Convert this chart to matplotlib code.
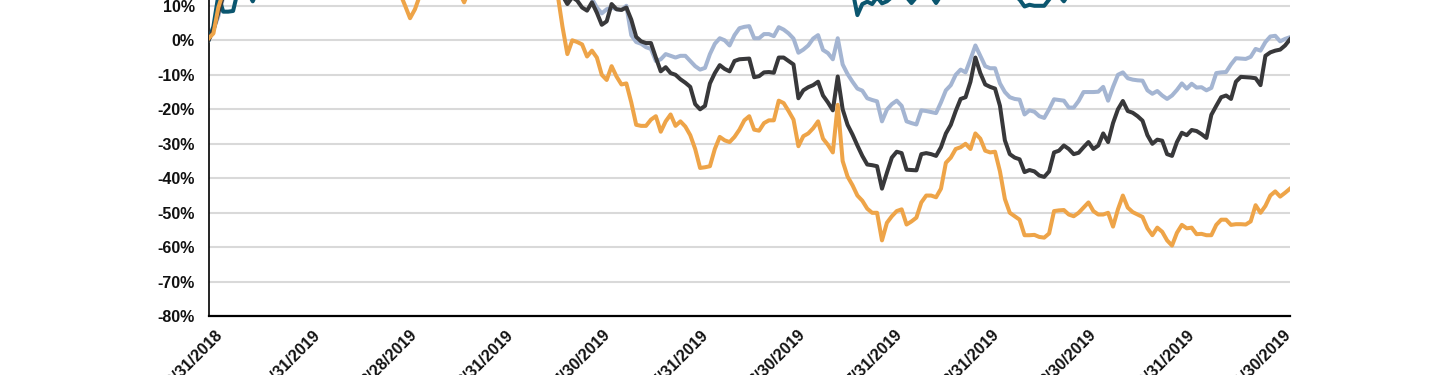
import numpy as np
import matplotlib
matplotlib.use("Agg")
import matplotlib.pyplot as plt

# month-end labels along the bottom
date_labels = ["12/31/2018", "1/31/2019", "2/28/2019", "3/31/2019", "4/30/2019",
               "5/31/2019", "6/30/2019", "7/31/2019", "8/31/2019", "9/30/2019",
               "10/31/2019", "11/30/2019"]

# cumulative return in %, one value per step (20 steps per month)
teal = [0.0, 4.0, 13.0, 8.3, 8.3, 8.5, 14.5, 16.0, 14.0, 11.3,
        14.5, 17.0, 19.0, 18.0, 21.0, 23.5, 22.0, 25.0, 27.0, 26.0,
        28.0, 30.5, 29.0, 31.0, 33.0, 32.0, 30.0, 28.5, 30.0, 32.5,
        34.0, 33.0, 35.5, 37.0, 36.0, 38.0, 36.5, 35.0, 33.5, 31.0,
        29.5, 28.0, 30.0, 32.0, 33.5, 35.0, 34.0, 36.0, 37.5, 36.5,
        35.0, 33.0, 31.5, 32.5, 34.0, 36.0, 37.5, 36.0, 38.5, 40.0,
        39.0, 41.0, 39.5, 37.0, 38.0, 36.0, 34.5, 33.0, 31.5, 30.0,
        29.0, 27.5, 25.0, 23.5, 25.0, 24.0, 22.5, 23.0, 24.5, 22.0,
        20.0, 21.5, 23.0, 22.0, 21.0, 22.5, 19.0, 17.5, 16.5, 17.0,
        16.0, 15.0, 16.5, 17.5, 16.5, 17.0, 18.5, 17.5, 16.0, 15.0,
        14.5, 15.5, 17.0, 18.5, 20.0, 21.5, 20.5, 22.0, 23.5, 24.0,
        23.0, 21.5, 22.0, 23.0, 22.5, 24.0, 25.0, 24.0, 22.5, 21.0,
        18.5, 19.5, 20.5, 21.5, 20.5, 19.0, 18.0, 17.0, 19.5, 16.5,
        14.5, 14.5, 7.3, 10.5, 11.2, 10.5, 12.5, 10.7, 11.3, 12.5,
        14.0, 13.5, 12.5, 10.8, 12.5, 13.5, 14.0, 13.0, 10.8, 13.0,
        15.5, 17.0, 19.0, 21.0, 20.5, 23.0, 26.0, 22.0, 20.5, 19.5,
        19.0, 17.5, 15.0, 14.0, 13.0, 11.8, 9.8, 10.3, 10.0, 10.0,
        10.0, 11.8, 14.0, 13.0, 11.3, 13.5, 15.0, 16.5, 15.5, 17.0,
        18.0, 19.5, 18.5, 21.0, 19.5, 22.0, 24.0, 23.0, 21.5, 20.5,
        19.0, 18.5, 17.5, 18.0, 19.5, 18.5, 20.0, 21.5, 23.0, 22.0,
        23.5, 22.5, 21.0, 21.5, 22.0, 24.5, 26.0, 27.0, 26.5, 28.0,
        29.0, 30.0, 29.5, 31.0, 30.5, 32.0, 33.5, 33.0, 34.5, 35.0, 36.0]

light_blue = [0.0, 3.0, 7.0, 12.5, 14.5, 16.0, 15.5, 18.0, 19.5, 19.0,
              21.0, 23.0, 22.0, 24.5, 24.0, 26.0, 25.5, 24.0, 25.0, 23.5,
              22.0, 23.5, 21.5, 23.0, 24.5, 24.0, 22.5, 21.5, 22.5, 21.0,
              21.5, 23.0, 22.5, 21.0, 20.0, 21.0, 19.5, 20.5, 19.0, 18.0,
              16.5, 15.5, 17.0, 18.5, 20.0, 21.0, 20.5, 22.0, 21.5, 20.5,
              19.5, 19.0, 18.0, 19.0, 20.5, 21.5, 23.0, 22.5, 24.0, 25.0,
              24.5, 26.0, 24.5, 23.5, 24.0, 22.5, 21.5, 20.0, 18.5, 17.5,
              16.5, 15.5, 14.5, 13.5, 14.0, 13.0, 13.5, 14.0, 12.0, 9.5,
              7.8, 9.0, 9.5, 9.0, 8.8, 10.0, 1.5, -0.5, -1.0, -2.0,
              -2.5, -6.0, -5.5, -4.0, -4.5, -5.0, -4.5, -4.5, -6.0, -7.5,
              -8.5, -8.0, -4.0, -1.0, 0.6, 0.0, -1.5, 1.5, 3.5, 3.9,
              4.1, 0.6, 0.6, 1.8, 1.8, 1.2, 3.8, 3.1, 2.0, 0.5,
              -3.6, -2.7, -1.5, 0.5, 1.5, -2.8, -3.7, -5.5, 0.6, -7.0,
              -9.8, -12.0, -14.0, -14.6, -16.8, -17.3, -17.7, -23.5, -20.1, -18.5,
              -17.5, -19.0, -23.5, -24.0, -24.4, -20.3, -20.5, -20.8, -21.1, -18.0,
              -14.5, -13.0, -10.0, -8.5, -9.3, -5.5, -1.5, -4.5, -7.5, -8.1,
              -8.1, -12.5, -15.0, -16.5, -17.0, -17.2, -21.5, -20.3, -20.7, -22.0,
              -22.5, -20.0, -17.1, -17.3, -17.5, -19.5, -19.5, -17.6, -15.0, -15.0,
              -15.0, -14.9, -13.5, -17.5, -13.5, -10.0, -9.3, -11.0, -11.4, -11.6,
              -11.7, -14.5, -15.5, -14.7, -16.0, -17.0, -16.0, -14.4, -12.5, -14.0,
              -12.6, -13.7, -13.6, -14.5, -13.8, -9.5, -9.3, -9.2, -7.0, -5.2,
              -5.3, -5.4, -4.8, -2.5, -3.0, -0.5, 1.1, 1.3, -0.3, 0.4, 0.9]

dark = [0.0, 3.0, 8.0, 13.0, 15.0, 17.5, 16.5, 19.0, 21.0, 20.5,
        23.0, 25.5, 24.0, 27.0, 26.0, 28.5, 27.5, 25.5, 26.5, 24.5,
        23.0, 24.5, 22.0, 24.0, 26.0, 25.0, 23.0, 22.0, 23.5, 21.5,
        22.5, 24.0, 23.0, 21.5, 20.5, 21.5, 20.0, 21.0, 19.5, 18.5,
        17.0, 15.5, 17.5, 19.0, 20.5, 22.0, 21.0, 23.0, 22.5, 21.0,
        20.0, 19.5, 18.0, 19.5, 21.0, 22.5, 24.0, 23.0, 25.0, 26.5,
        25.5, 27.0, 25.5, 24.0, 25.0, 23.0, 22.0, 20.5, 19.0, 17.5,
        16.5, 15.0, 13.0, 10.5, 12.5, 11.5, 9.5, 8.6, 11.0, 8.0,
        4.5, 5.5, 10.5, 9.0, 8.8, 9.5, 6.0, 1.0, -0.3, -0.8,
        -0.8, -5.0, -9.0, -7.8, -9.5, -10.0, -11.3, -12.3, -13.5, -18.5,
        -20.0, -19.0, -12.5, -9.5, -7.2, -8.3, -9.0, -6.0, -5.5, -5.4,
        -5.3, -10.7, -10.4, -9.3, -9.2, -9.4, -5.0, -5.0, -6.0, -7.0,
        -16.8, -14.5, -13.6, -13.0, -12.0, -16.0, -18.0, -20.3, -10.5, -20.0,
        -24.5, -27.3, -30.5, -33.5, -36.0, -36.2, -36.5, -43.0, -38.4, -34.0,
        -32.3, -32.7, -37.5, -37.6, -37.7, -33.0, -32.7, -33.0, -33.5, -31.0,
        -27.0, -24.5, -20.5, -17.0, -16.5, -12.0, -5.0, -9.5, -12.8, -13.5,
        -14.0, -19.0, -29.0, -33.0, -34.0, -34.5, -38.2, -37.6, -38.0, -39.2,
        -39.6, -38.0, -32.5, -32.0, -30.5, -31.5, -33.0, -32.6, -31.0, -29.5,
        -31.5, -30.5, -27.0, -29.5, -24.0, -20.0, -17.6, -20.5, -21.0, -22.0,
        -23.3, -27.5, -30.0, -28.8, -29.1, -33.0, -33.5, -29.5, -26.8, -27.5,
        -26.0, -26.3, -27.2, -28.3, -21.6, -19.0, -16.5, -16.0, -17.0, -12.0,
        -10.6, -10.7, -10.8, -11.0, -13.0, -4.5, -3.5, -3.0, -2.7, -1.5, 0.3]

orange = [0.5, 2.0, 9.5, 14.0, 16.5, 18.0, 17.0, 19.5, 21.0, 20.0,
          22.5, 24.0, 23.0, 25.5, 24.5, 27.0, 26.0, 23.5, 24.5, 22.0,
          20.5, 22.0, 19.0, 21.0, 23.5, 22.0, 20.0, 18.5, 19.5, 17.0,
          18.5, 20.5, 19.0, 17.5, 16.0, 17.5, 15.5, 16.5, 15.0, 13.5,
          10.0, 6.4, 9.0, 13.0, 15.5, 17.0, 16.0, 18.5, 17.5, 16.0,
          14.5, 14.0, 11.0, 14.5, 16.0, 18.0, 19.5, 18.0, 20.5, 22.0,
          21.0, 23.5, 22.0, 20.5, 21.5, 19.0, 20.0, 18.0, 17.0, 15.5,
          15.0, 13.5, 4.0, -4.0, 0.0, -0.5, -1.2, -4.7, -3.0, -5.0,
          -10.0, -11.5, -7.5, -10.5, -12.8, -12.5, -18.0, -24.5, -24.8, -24.8,
          -23.0, -22.0, -26.5, -23.5, -21.5, -24.8, -23.5, -25.0, -27.5, -31.5,
          -37.0, -36.8, -36.5, -31.5, -28.0, -29.0, -29.5, -28.0, -25.9, -23.2,
          -22.0, -25.9, -26.2, -24.0, -23.2, -23.2, -17.5, -18.2, -20.5, -23.0,
          -30.7, -27.8, -27.0, -25.5, -23.5, -28.5, -30.3, -32.5, -18.7, -35.0,
          -39.5, -42.0, -45.0, -46.5, -48.8, -50.0, -50.0, -58.0, -52.9, -51.0,
          -49.5, -49.0, -53.4, -52.5, -51.4, -47.0, -45.0, -45.0, -45.5, -43.0,
          -35.5, -34.0, -31.5, -31.0, -30.0, -31.5, -27.0, -28.5, -32.0, -32.5,
          -32.3, -38.0, -46.0, -50.0, -51.0, -52.0, -56.5, -56.5, -56.4, -57.0,
          -57.2, -56.0, -49.5, -49.3, -49.2, -50.5, -51.0, -50.0, -48.5, -47.0,
          -49.5, -50.5, -50.5, -50.0, -54.0, -49.0, -45.0, -48.5, -49.8, -50.5,
          -51.2, -54.5, -56.5, -54.3, -55.5, -58.0, -59.5, -55.8, -53.5, -54.5,
          -54.3, -56.2, -56.1, -56.5, -56.5, -53.5, -52.0, -52.0, -53.5, -53.3,
          -53.3, -53.4, -52.5, -47.8, -50.0, -48.0, -45.0, -43.8, -45.3, -44.2, -43.0]

y_ticks = [10, 0, -10, -20, -30, -40, -50, -60, -70, -80]

steps = np.arange(len(dark))
# label positions: one per month, 19.76 steps apart
tick_pos = 1.25 + 19.76 * np.arange(len(date_labels))

plt.rcParams['font.family'] = ['Liberation Sans', 'DejaVu Sans']

fig = plt.figure(figsize=(14.4, 3.75), dpi=100)
ax = fig.add_axes([208.5 / 1440, 58.7 / 375, (1290 - 208.5) / 1440, 316.3 / 375])

ax.set_ylim(-80, 11.68)
ax.set_xlim(0, len(dark) - 1)

for v in y_ticks[:-1]:
    ax.axhline(v, color='#d9d9d9', lw=1.5, zorder=1)

lw = 2.9
ax.plot(steps, light_blue, color='#a4b5d2', lw=lw, zorder=3, solid_joinstyle='round')
ax.plot(steps, teal, color='#0b566f', lw=lw, zorder=4, solid_joinstyle='round')
ax.plot(steps, dark, color='#38383a', lw=lw, zorder=5, solid_joinstyle='round')
ax.plot(steps, orange, color='#eea448', lw=lw, zorder=6, solid_joinstyle='round')

ax.set_yticks(y_ticks)
ax.set_yticklabels([f"{v}%" for v in y_ticks], fontsize=11.5, fontweight='bold', color='#111111')
ax.tick_params(axis='y', length=0, pad=10)

ax.set_xticks(tick_pos)
ax.set_xticklabels(date_labels, fontsize=11.5, fontweight='bold', color='#111111',
                   rotation=45, ha='right', va='top', rotation_mode='anchor')
ax.tick_params(axis='x', length=0, pad=8)

for side in ['top', 'right']:
    ax.spines[side].set_visible(False)
ax.spines['left'].set_color('black')
ax.spines['left'].set_linewidth(1.2)
ax.spines['bottom'].set_color('black')
ax.spines['bottom'].set_linewidth(1.6)
ax.spines['bottom'].set_zorder(7)

fig.savefig("out.png", dpi=100)
